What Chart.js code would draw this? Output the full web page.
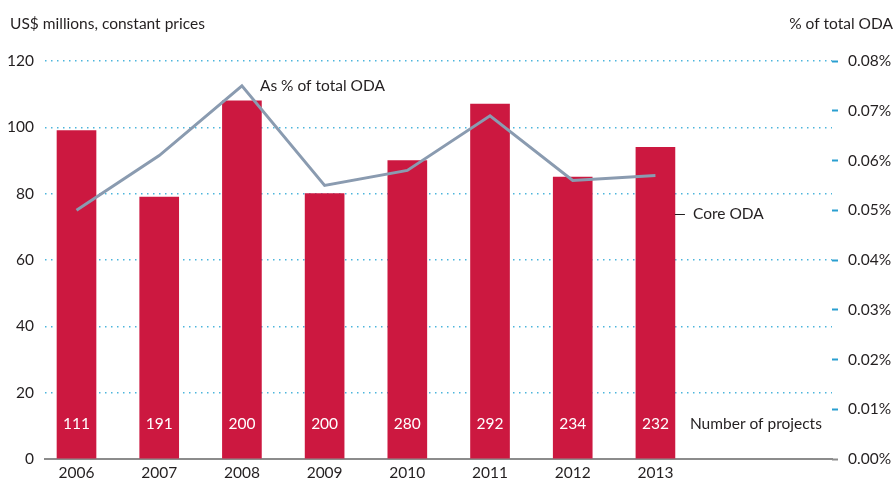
<!DOCTYPE html>
<html lang="en">
<head>
<meta charset="UTF-8">
<title>Core ODA</title>
<script src="https://cdn.jsdelivr.net/npm/chart.js"></script>
<style>
  html, body { margin: 0; padding: 0; background: #fff; }
  #wrap { position: relative; width: 896px; height: 482px; }
</style>
</head>
<body>
<div id="wrap"><canvas id="chart" width="896" height="482"></canvas></div>
<script>
const years = ['2006', '2007', '2008', '2009', '2010', '2011', '2012', '2013'];
const coreOda = [99, 79, 108, 80, 90, 107, 85, 94];
const pctOda = [0.050, 0.061, 0.075, 0.055, 0.058, 0.069, 0.056, 0.057];
const projects = [111, 191, 200, 200, 280, 292, 234, 232];
const leftTicks = [0, 20, 40, 60, 80, 100, 120];
const rightTicks = [0, 0.01, 0.02, 0.03, 0.04, 0.05, 0.06, 0.07, 0.08];

const FONT = 'Lato';
const FS = 15.5;
const TXT = '#231f20';
const BAR = '#cc1840';
const LINE = '#8a9bb0';
const GRID = '#4cb5dc';

// text labels drawn next to the marks
const annotations = {
  id: 'annotations',
  afterDatasetsDraw(chart) {
    const ctx = chart.ctx;
    const x = chart.scales.x, y = chart.scales.y, y2 = chart.scales.y2;
    ctx.save();
    ctx.textBaseline = 'middle';
    ctx.font = FS + 'px "' + FONT + '"';
    // project counts inside bars
    ctx.fillStyle = '#fff';
    ctx.textAlign = 'center';
    const labelY = y.getPixelForValue(10.5);
    projects.forEach((p, i) => ctx.fillText(String(p), x.getPixelForValue(i), labelY));
    // series labels
    ctx.fillStyle = TXT;
    ctx.textAlign = 'left';
    const last = years.length - 1;
    const barRight = x.getPixelForValue(last) + 19.5;
    ctx.fillText('Number of projects', barRight + 15, labelY);
    const coreY = y.getPixelForValue(74);
    ctx.strokeStyle = TXT;
    ctx.lineWidth = 1;
    ctx.beginPath();
    ctx.moveTo(barRight, Math.round(coreY) + 0.5);
    ctx.lineTo(barRight + 10, Math.round(coreY) + 0.5);
    ctx.stroke();
    ctx.fillText('Core ODA', barRight + 18, coreY);
    ctx.fillText('As % of total ODA', x.getPixelForValue(2) + 18, y2.getPixelForValue(pctOda[2]));
    // axis titles
    ctx.textBaseline = 'alphabetic';
    ctx.fillText('US$ millions, constant prices', 10, 29);
    ctx.textAlign = 'right';
    ctx.fillText('% of total ODA', 893, 29);
    ctx.restore();
  }
};

new Chart(document.getElementById('chart'), {
  data: {
    datasets: [
      {
        type: 'line',
        label: 'As % of total ODA',
        data: pctOda.map((v, i) => ({ x: i, y: v })),
        yAxisID: 'y2',
        borderColor: LINE,
        borderWidth: 3,
        pointRadius: 0,
        tension: 0,
        order: 0
      },
      {
        type: 'bar',
        label: 'Core ODA',
        data: coreOda.map((v, i) => ({ x: i, y: v })),
        yAxisID: 'y',
        backgroundColor: BAR,
        barThickness: 39,
        order: 1
      }
    ]
  },
  options: {
    responsive: false,
    animation: false,
    layout: { padding: { top: 61, left: 0, right: 0, bottom: 0 } },
    plugins: { legend: { display: false }, tooltip: { enabled: false } },
    scales: {
      x: {
        type: 'linear',
        min: -0.381,
        max: 9.135,
        offset: false,
        afterFit: s => { s.height = 23; },
        afterBuildTicks: s => { s.ticks = years.map((_, i) => ({ value: i })); },
        ticks: {
          autoSkip: false,
          maxRotation: 0,
          padding: -3,
          color: TXT,
          font: { family: FONT, size: FS },
          callback: v => years[v] || ''
        },
        grid: { display: false, offset: false },
        border: { display: true, color: '#8c8c8c', width: 2 }
      },
      y: {
        position: 'left',
        min: 0,
        max: 120,
        afterFit: s => { s.width = 45; },
        afterBuildTicks: s => { s.ticks = leftTicks.map(v => ({ value: v })); },
        ticks: { color: TXT, padding: 11, font: { family: FONT, size: FS } },
        grid: {
          drawTicks: false,
          color: c => c.tick && c.tick.value === 0 ? 'rgba(0,0,0,0)' : GRID,
          lineWidth: 1.5
        },
        border: { display: false, dash: [1.5, 4.5] }
      },
      y2: {
        position: 'right',
        min: 0,
        max: 0.08,
        afterFit: s => { s.width = 64; },
        afterBuildTicks: s => { s.ticks = rightTicks.map(v => ({ value: v })); },
        ticks: {
          color: TXT,
          padding: 10,
          font: { family: FONT, size: FS },
          callback: v => v.toFixed(2) + '%'
        },
        grid: {
          drawOnChartArea: false,
          tickLength: 6,
          tickWidth: 2,
          tickColor: c => c.tick && c.tick.value === 0 ? '#8c8c8c' : '#2a9fd0'
        },
        border: { display: false }
      }
    }
  },
  plugins: [annotations]
});
</script>
</body>
</html>
